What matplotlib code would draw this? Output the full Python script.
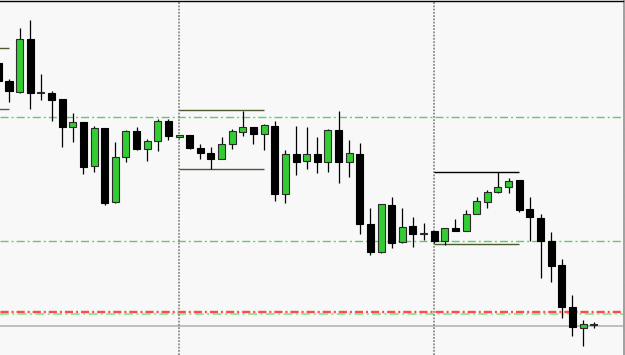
import numpy as np
import matplotlib
matplotlib.use("Agg")
import matplotlib.pyplot as plt

# ── OHLC (price points, one candle per bar) ───────────────────────────────────
opens = [292, 274, 263.3, 315.7, 262, 262, 255.7, 228.3, 232.7, 189,
         227.3, 153.3, 197.7, 224, 206, 214.3, 234, 218, 219.7, 206.7,
         202.3, 196.3, 210.7, 223.3, 227.7, 220.7, 229, 161.3, 200.7, 194,
         200.7, 193.3, 224.7, 193.3, 201, 131, 102.7, 150, 113, 128.7,
         121.3, 123.7, 114, 126.7, 124.3, 141, 153.3, 162.7, 167.7, 175,
         145.7, 137.3, 114, 89.7, 48.3, 27.3, 30.3]
highs = [297, 276, 327, 335, 280.7, 264, 255.7, 241.7, 232.7, 229,
         227.3, 213.3, 225, 227.7, 216, 235.7, 235.7, 220.5, 219.7, 210.7,
         207.7, 217.7, 225.7, 244.3, 227.7, 231, 234, 204.7, 229, 228.3,
         218.3, 226.3, 244, 215, 212.3, 147.3, 150.7, 158.3, 147.3, 137.7,
         131.7, 123.7, 127.3, 136, 145, 157.7, 165.3, 182.7, 176.7, 175,
         158.3, 140.7, 123.3, 95.7, 60, 35, 32.7]
lows = [273, 253.3, 262, 246.3, 255, 234.3, 207.7, 213, 181, 183.3,
        150, 151.7, 193.3, 205, 194.3, 204.3, 215, 217.5, 206, 196,
        186.3, 196.3, 206, 219.3, 210.7, 205, 154, 152.3, 180, 186.3,
        182.3, 182.7, 172.3, 178.3, 121, 100, 101.7, 107.3, 112, 108.3,
        115, 111.7, 110, 123.7, 124.3, 141, 147.3, 161.7, 161.7, 142.7,
        114, 76.7, 73.3, 36.7, 19.3, 9, 26.7]
closes = [274.3, 264, 315.7, 261.7, 262, 255, 228.3, 232.7, 188.3, 226.7,
          151.7, 197.7, 224, 206, 214, 234, 219, 219.7, 206.7, 202.3,
          195.7, 210.7, 223.7, 227.7, 220.7, 230, 161.3, 200.7, 193.3, 200.7,
          193.3, 224.7, 193.3, 202, 131, 102.7, 150.7, 111.7, 127.7, 121,
          121.3, 114, 126.7, 123.7, 141.3, 154, 163, 168, 174.3, 145,
          138, 114, 89.3, 48.3, 27.7, 30.7, 30.3]

# session separators (candle index) and range boxes: (start, end, high, low)
sessions = [17, 41]
boxes = [(-7, 1, 307.3, 245.7), (17, 25, 244.7, 186.3), (41, 49, 182.7, 111)]

# horizontal levels
green_levels = [237.7, 114]
red_levels = [44.4, 42.6]
green_low_level = 40.6
bid_level = 28.8

BG = "#f8f8f8"
BULL = "#33cc33"
BEAR = "#000000"
OLIVE = "#4d5b33"

# ── Figure: plot area fills the image, price scale cropped off at the right ──
fig = plt.figure(figsize=(6.25, 3.55), dpi=100, facecolor=BG)
ax = fig.add_axes([0, 0, 623.5 / 625, 354 / 355])
ax.set_facecolor(BG)

x = np.arange(len(opens))
o = np.array(opens)
c = np.array(closes)
up = c >= o

# wicks
ax.vlines(x, lows, highs, color="black", linewidth=0.9, zorder=3)

# bodies
body_w = 0.66
bottoms = np.minimum(o, c)
heights = np.maximum(np.abs(c - o), 0.9)
ax.bar(x[up], heights[up], bottom=bottoms[up], width=body_w,
       color=BULL, edgecolor="#2a2a2a", linewidth=0.8, zorder=4)
ax.bar(x[~up], heights[~up], bottom=bottoms[~up], width=body_w,
       color=BEAR, edgecolor=BEAR, linewidth=0.8, zorder=4)

# level lines (MT4 style dash-dot)
dashdot = (0, (5.8, 2.2, 1.4, 2.2))
for lv in green_levels:
    ax.axhline(lv, color="#5ccf5c", linewidth=1.0, linestyle=dashdot, zorder=1)
for lv in red_levels:
    ax.axhline(lv, color="#ff4a4a", linewidth=1.0, linestyle=dashdot, zorder=1)
ax.axhline(green_low_level, color="#7ee07e", linewidth=1.1,
           linestyle=dashdot, zorder=1)
ax.axhline(bid_level, color="#b0b0b0", linewidth=1.1, zorder=1)

# session separators
for s in sessions:
    ax.axvline(s, color="#8c8c8c", linewidth=1.3, linestyle=(0, (1, 0.8)),
               zorder=2)

# range boxes
for i, (x0, x1, hi, lo) in enumerate(boxes):
    top_col = "black" if i == 2 else OLIVE
    ax.hlines(hi, x0, x1, color=top_col, linewidth=1.0, zorder=2)
    ax.hlines(lo, x0, x1, color=OLIVE, linewidth=1.0, zorder=2)

# axes limits: candle 1 sits at pixel 9, 10.63 px per bar
ax.set_xlim(1 - 9 / 10.63, 1 + 614.5 / 10.63)
ax.set_ylim(0, 354)

ax.set_xticks([])
ax.yaxis.tick_right()
ax.set_yticks(np.arange(339, 0, -22.45))
ax.tick_params(axis="y", direction="out", length=2, width=1,
               color="#333333", labelright=False, labelleft=False)

ax.spines["left"].set_visible(False)
ax.spines["bottom"].set_visible(False)
ax.spines["top"].set_color("black")
ax.spines["top"].set_linewidth(1.0)
ax.spines["right"].set_color("#a0a0a0")
ax.spines["right"].set_linewidth(1.4)

fig.savefig("out.png", dpi=100, facecolor=BG)
